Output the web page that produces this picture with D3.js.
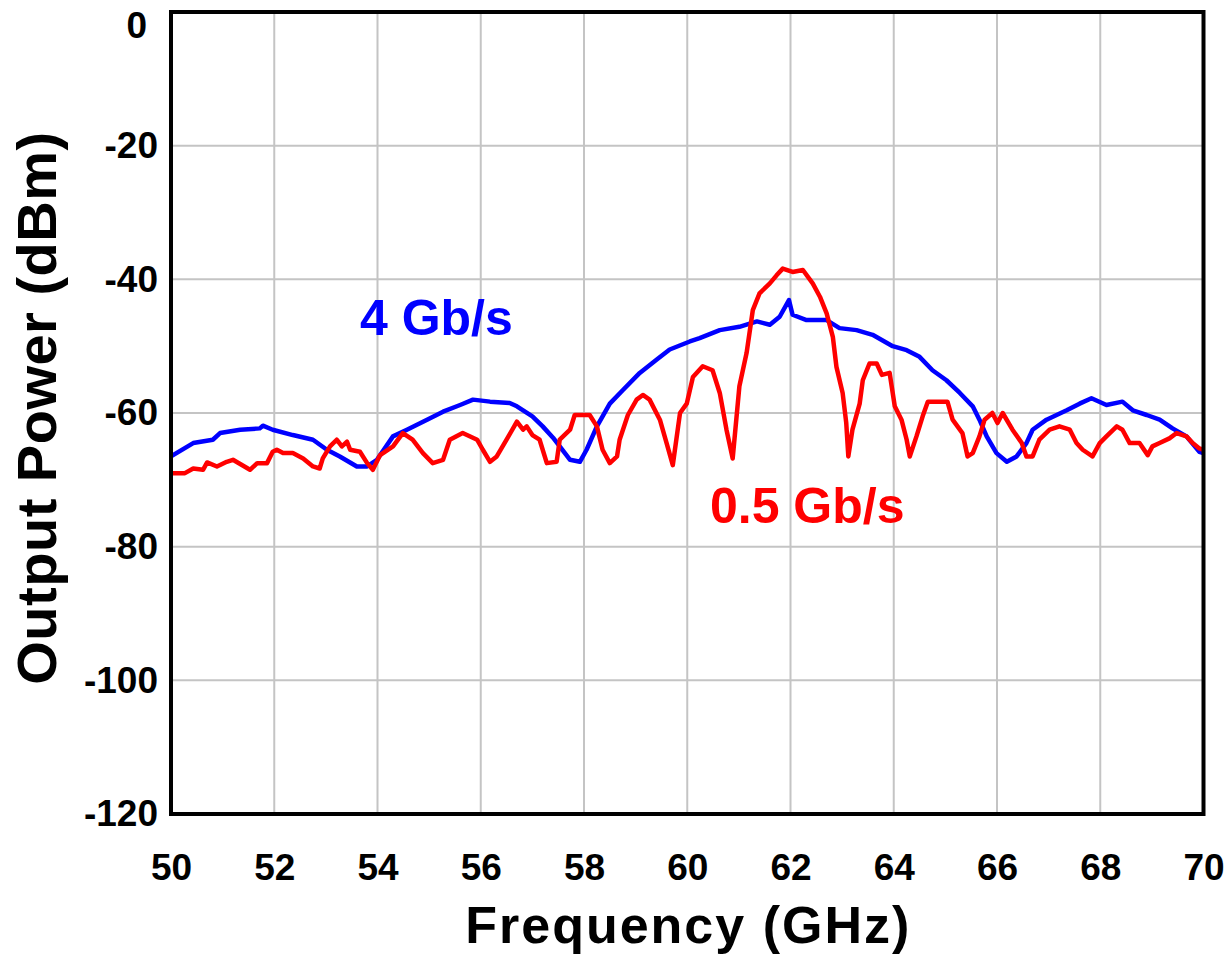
<!DOCTYPE html>
<html>
<head>
<meta charset="utf-8">
<script src="https://cdn.jsdelivr.net/npm/d3@7"></script>
<style>
  html, body { margin: 0; padding: 0; background: #fff; }
  svg { display: block; font-family: "Liberation Sans", Arial, Helvetica, sans-serif; font-weight: bold; }
</style>
</head>
<body>
<script>
// ---- data ----
const xTicks = [50, 52, 54, 56, 58, 60, 62, 64, 66, 68, 70];
const yTicks = [0, -20, -40, -60, -80, -100, -120];
const xTitle = "Frequency (GHz)";
const yTitle = "Output Power (dBm)";

// 4 Gb/s  [frequency GHz, power dBm]
const blue4G = [
  [50.0,-66.5],[50.43,-64.5],[50.81,-64],[50.95,-63],[51.34,-62.5],[51.72,-62.3],[51.78,-61.9],
  [51.97,-62.5],[52.36,-63.3],[52.75,-64],[53.02,-65.5],[53.27,-66.5],[53.6,-68],[53.8,-68],
  [53.99,-67],[54.3,-63.5],[54.57,-62.5],[54.96,-61],[55.27,-59.8],[55.6,-58.8],[55.85,-58],
  [56.18,-58.3],[56.56,-58.5],[56.7,-59],[57.0,-60.5],[57.2,-62],[57.4,-63.7],[57.53,-65],
  [57.73,-67],[57.92,-67.3],[58.05,-65.5],[58.25,-62],[58.5,-58.6],[58.75,-56.6],[59.08,-54],
  [59.41,-52],[59.66,-50.5],[60.05,-49.3],[60.24,-48.8],[60.63,-47.6],[61.01,-47.1],[61.35,-46.3],
  [61.6,-46.8],[61.79,-45.6],[61.97,-43.1],[62.04,-45.3],[62.31,-46.1],[62.7,-46.1],[62.95,-47.3],
  [63.28,-47.6],[63.59,-48.3],[63.98,-50],[64.25,-50.6],[64.5,-51.6],[64.75,-53.6],[65.02,-55.1],
  [65.28,-57],[65.53,-59],[65.66,-61],[65.8,-63.5],[65.99,-66],[66.19,-67.3],[66.38,-66.5],
  [66.57,-64.5],[66.69,-62.5],[66.96,-61],[67.35,-59.6],[67.6,-58.6],[67.83,-57.8],[68.12,-58.8],
  [68.43,-58.3],[68.63,-59.6],[68.9,-60.3],[69.15,-61],[69.4,-62.3],[69.67,-63.5],[69.92,-65.8],[70,-66]
];

// 0.5 Gb/s  [frequency GHz, power dBm]
const red05G = [
  [50,-69],[50.27,-69],[50.43,-68.3],[50.62,-68.5],[50.7,-67.4],[50.89,-68],[51.08,-67.3],[51.2,-67],
  [51.53,-68.5],[51.67,-67.5],[51.86,-67.5],[51.97,-65.8],[52.05,-65.5],[52.17,-66],[52.36,-66],
  [52.56,-66.8],[52.75,-68],[52.88,-68.3],[52.94,-66.8],[53.08,-65],[53.21,-64],[53.31,-65],
  [53.41,-64.3],[53.47,-65.5],[53.66,-65.8],[53.8,-67.5],[53.91,-68.5],[54.05,-66.3],[54.3,-65],
  [54.49,-63],[54.68,-64],[54.88,-66],[55.07,-67.5],[55.27,-67],[55.4,-64],[55.65,-63],[55.93,-64],
  [56.04,-65.5],[56.18,-67.3],[56.31,-66.5],[56.5,-64],[56.7,-61.3],[56.82,-62.5],[56.89,-62],
  [57.0,-63.3],[57.14,-64],[57.28,-67.5],[57.47,-67.3],[57.53,-64],[57.73,-62.5],[57.82,-60.3],
  [58.11,-60.3],[58.25,-62],[58.36,-65.5],[58.5,-67.5],[58.64,-66.5],[58.69,-64],[58.85,-60.3],
  [59.02,-58],[59.14,-57.3],[59.27,-58],[59.47,-61],[59.6,-64.5],[59.72,-67.8],[59.86,-60],
  [59.99,-58.6],[60.11,-54.6],[60.3,-53],[60.49,-53.6],[60.63,-57],[60.76,-62.5],[60.88,-66.8],
  [61.01,-56],[61.15,-51],[61.27,-44.6],[61.4,-42.1],[61.6,-40.6],[61.73,-39.4],[61.85,-38.4],
  [62.04,-38.9],[62.24,-38.6],[62.43,-40.6],[62.57,-42.6],[62.7,-45.1],[62.82,-48.6],[62.89,-53.1],
  [63.01,-57],[63.08,-61.5],[63.12,-66.5],[63.2,-62.5],[63.34,-58.6],[63.4,-55.1],[63.53,-52.6],
  [63.67,-52.6],[63.77,-54.3],[63.92,-54],[64.02,-59],[64.15,-61],[64.25,-64],[64.31,-66.5],
  [64.44,-63.5],[64.56,-60.5],[64.66,-58.3],[65.04,-58.3],[65.14,-61],[65.33,-63],[65.43,-66.5],
  [65.53,-66],[65.66,-63.5],[65.76,-61],[65.91,-60],[66.01,-61.5],[66.11,-60],[66.3,-62.5],
  [66.48,-64.5],[66.57,-66.5],[66.69,-66.5],[66.82,-64],[67.02,-62.5],[67.21,-62],[67.41,-62.5],
  [67.54,-64.5],[67.66,-65.5],[67.85,-66.5],[67.99,-64.5],[68.12,-63.5],[68.32,-62],[68.43,-62.5],
  [68.57,-64.5],[68.76,-64.5],[68.92,-66.3],[69.01,-65],[69.15,-64.5],[69.34,-63.8],[69.48,-63],
  [69.67,-63.5],[69.79,-64.5],[69.92,-65.3],[70,-65.5]
];

const seriesNames = ["4 Gb/s", "0.5 Gb/s"];
const seriesColors = ["#0000ff", "#ff0000"];
// label anchor positions in data units [GHz, dBm]
const labelPos = [[53.66, -48.3], [60.44, -76.5]];

// ---- chart ----
const W = 1226, H = 959;
const x = d3.scaleLinear().domain([50, 70]).range([171, 1203.5]);
const y = d3.scaleLinear().domain([-120, 0]).range([814, 12]);

const svg = d3.select("body").append("svg").attr("width", W).attr("height", H);

// grid
svg.append("g").selectAll("line").data(xTicks.slice(1, -1)).join("line")
  .attr("x1", d => x(d)).attr("x2", d => x(d))
  .attr("y1", y(0)).attr("y2", y(-120))
  .attr("stroke", "#c4c4c4").attr("stroke-width", 2);
svg.append("g").selectAll("line").data(yTicks.slice(1, -1)).join("line")
  .attr("y1", d => y(d)).attr("y2", d => y(d))
  .attr("x1", x(50)).attr("x2", x(70))
  .attr("stroke", "#c4c4c4").attr("stroke-width", 2);

// clip
svg.append("clipPath").attr("id", "plotclip").append("rect")
  .attr("x", x(50)).attr("y", y(0)).attr("width", x(70) - x(50)).attr("height", y(-120) - y(0));

const line = d3.line().x(d => x(d[0])).y(d => y(d[1]));
const seriesData = [blue4G, red05G];
const gl = svg.append("g").attr("clip-path", "url(#plotclip)");
seriesData.forEach((s, i) => {
  gl.append("path").datum(s).attr("d", line)
    .attr("fill", "none").attr("stroke", seriesColors[i])
    .attr("stroke-width", 4.5).attr("stroke-linejoin", "round").attr("stroke-linecap", "round");
});

// frame
svg.append("rect")
  .attr("x", x(50)).attr("y", y(0)).attr("width", x(70) - x(50)).attr("height", y(-120) - y(0))
  .attr("fill", "none").attr("stroke", "#000").attr("stroke-width", 4);

// axes (labels)
const xAxis = svg.append("g").attr("transform", `translate(0,${y(-120)})`)
  .call(d3.axisBottom(x).tickValues(xTicks).tickSize(0).tickPadding(40).tickFormat(d3.format("d")));
const yAxis = svg.append("g").attr("transform", `translate(${x(50)},0)`)
  .call(d3.axisLeft(y).tickValues(yTicks).tickSize(0).tickPadding(13).tickFormat(d => d === 0 ? "0" : String(d)));
[xAxis, yAxis].forEach(g => {
  g.select(".domain").remove();
  g.selectAll("text").attr("font-family", "'Liberation Sans', Arial, sans-serif")
    .attr("font-weight", "bold").attr("font-size", 37).attr("fill", "#000");
});
yAxis.selectAll(".tick text").filter(d => d === 0).attr("x", -24).attr("dy", 25);

// axis titles
svg.append("text").text(xTitle)
  .attr("x", (x(50) + x(70)) / 2 + 1).attr("y", 943)
  .attr("text-anchor", "middle").attr("font-size", 52).attr("letter-spacing", 2).attr("fill", "#000");
svg.append("text").text(yTitle)
  .attr("transform", `translate(56,${(y(0) + y(-120)) / 2 - 5}) rotate(-90)`)
  .attr("text-anchor", "middle").attr("font-size", 56).attr("letter-spacing", 0.5).attr("fill", "#000");

// series labels
seriesNames.forEach((n, i) => {
  svg.append("text").text(n)
    .attr("x", x(labelPos[i][0])).attr("y", y(labelPos[i][1]))
    .attr("font-size", 50).attr("fill", seriesColors[i]);
});
</script>
</body>
</html>
